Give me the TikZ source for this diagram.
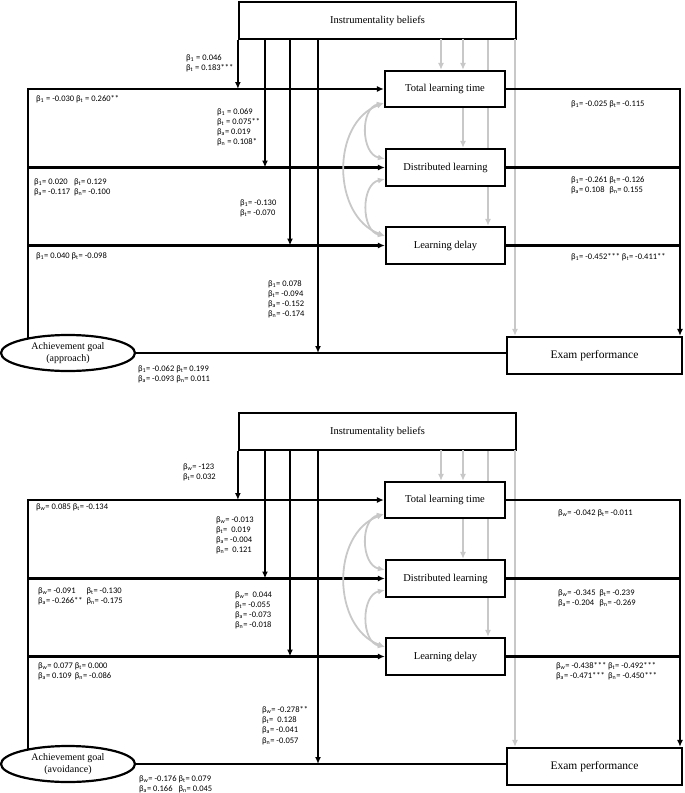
\documentclass[tikz,border=0pt]{standalone}
\usepackage{fontspec}
\setmainfont{Liberation Serif}
\newfontfamily\coeffont{Carlito}
\usetikzlibrary{arrows.meta,shapes.geometric,backgrounds}
\definecolor{pathgray}{RGB}{200,200,200}
\newcommand\bc[1]{β\textsubscript{#1}}

\tikzset{
  var/.style={draw, line width=2.2pt, fill=white, inner sep=0pt,
    font=\fontsize{10.5}{12}\selectfont},
  goalvar/.style={ellipse, draw, line width=2.2pt, fill=white, inner sep=0pt,
    minimum width=134pt, minimum height=36pt, align=center,
    font=\fontsize{10}{11.5}\selectfont},
  path/.style={line width=2.2pt, -{Latex[length=7pt,width=6pt]}},
  link/.style={line width=2.2pt},
  gpath/.style={draw=pathgray, line width=1.8pt, -{Latex[length=7pt,width=6pt]}},
  gcov/.style={draw=pathgray, line width=1.8pt,
    {Latex[length=7pt,width=6pt]}-{Latex[length=7pt,width=6pt]}},
  coef/.style={font=\coeffont\fontsize{8.5}{10.3}\selectfont, anchor=north west,
    inner sep=0pt, align=left},
}

\begin{document}
\begin{tikzpicture}[x=1pt, y=-1pt]
\useasboundingbox (0,0) rectangle (685,793);

% the two panels share one layout
\foreach \p/\off/\kind in {a/0/approach, b/411/avoidance} {
\begin{scope}[yshift=-\off pt]
  \node[var, minimum width=277pt, minimum height=37pt] (ib\p) at (377.5,20.5) {Instrumentality beliefs};
  \node[var, minimum width=120pt, minimum height=36pt] (tlt\p) at (445,89) {Total learning time};
  \node[var, minimum width=119pt, minimum height=37pt] (dl\p) at (445.5,167.5) {Distributed learning};
  \node[var, minimum width=119pt, minimum height=37pt] (ld\p) at (445.5,245.5) {Learning delay};
  \node[var, minimum width=175pt, minimum height=37pt, font=\fontsize{11.5}{13}\selectfont] (exam\p) at (594.5,355.5) {Exam performance};
  \node[goalvar] (goal\p) at (68,353) {Achievement goal\\(\kind)};

  \coordinate (lft\p) at (28,89);
  \coordinate (rgt\p) at (680,89);
  \coordinate (m1\p) at (265,39);
  \coordinate (m2\p) at (290,39);
  \coordinate (m3\p) at (318,39);
  \coordinate (g1\p) at (441,39);
  \coordinate (g2\p) at (463,39);
  \coordinate (g3\p) at (488,39);
  \coordinate (g4\p) at (515,39);

  \begin{scope}[on background layer]
    \draw[path] (lft\p |- goal\p) -- (lft\p) -- (tlt\p.west);
    \draw[gpath] (g3\p) -- (g3\p |- ld\p.north);
  \end{scope}
  \draw[path] (lft\p |- dl\p) -- (dl\p.west);
  \draw[path] (lft\p |- ld\p) -- (ld\p.west);
  \draw[link] (goal\p.east) -- (goal\p.east -| exam\p.west);

  % moderation by instrumentality beliefs
  \draw[path] (ib\p.south west) -- (ib\p.south west |- tlt\p.west);
  \draw[path] (m1\p) -- (m1\p |- dl\p);
  \draw[path] (m2\p) -- (m2\p |- ld\p);
  \draw[path] (m3\p) -- (m3\p |- goal\p.east);

  \draw[gpath] (g1\p) -- (g1\p |- tlt\p.north);
  \draw[gpath] (g2\p) -- (g2\p |- tlt\p.north);
  \draw[gpath] (g2\p |- tlt\p.south) -- (g2\p |- dl\p.north);
  \draw[gpath] (g4\p) -- (g4\p |- exam\p.north);

  % outcome paths
  \draw[path] (tlt\p.east) -- (rgt\p) -- (rgt\p |- exam\p.north);
  \draw[link] (dl\p.east) -- (dl\p.east -| rgt\p);
  \draw[link] (ld\p.east) -- (ld\p.east -| rgt\p);

  % covariances
  \draw[gcov] ([yshift=5pt]tlt\p.south west) .. controls +(-24,5) and +(-24,-5) .. ([yshift=-11pt]dl\p.north west);
  \draw[gcov] ([yshift=5pt]tlt\p.south west) .. controls +(-53,20) and +(-53,-20) .. ([yshift=-10pt]ld\p.north west);
  \draw[gcov] ([yshift=8pt]dl\p.south west) .. controls +(-24,5) and +(-24,-5) .. ([yshift=-10pt]ld\p.north west);
\end{scope}
}

% coefficients, approach
\node[coef] (ca1) at (186,54) {\bc{1} = 0.046\\\bc{t} = 0.183***};
\node[coef] (ca2) at (36,95) {\bc{1} = -0.030 \bc{t} = 0.260**};
\node[coef] (ca3) at (217,108) {\bc{1} = 0.069\\\bc{t} = 0.075**\\\bc{a}= 0.019\\\bc{n} = 0.108*};
\node[coef] (ca4) at (34,177) {\begin{tabular}{@{}l@{\ \ }l@{}}\bc{1}= 0.020 & \bc{t}= 0.129\\\bc{a}= -0.117 & \bc{n}= -0.100\end{tabular}};
\node[coef] (ca5) at (240,199) {\bc{1}= -0.130\\\bc{t}= -0.070};
\node[coef] (ca6) at (36,252) {\bc{1}= 0.040 \bc{t}= -0.098};
\node[coef] (ca7) at (268,280) {\bc{1}= 0.078\\\bc{t}= -0.094\\\bc{a}= -0.152\\\bc{n}= -0.174};
\node[coef] (ca8) at (138,364) {\begin{tabular}{@{}l@{\ }l@{}}\bc{1}= -0.062 & \bc{t}= 0.199\\\bc{a}= -0.093 & \bc{n}= 0.011\end{tabular}};
\node[coef] (ca9) at (571,100) {\bc{1}= -0.025 \bc{t}= -0.115};
\node[coef] (ca10) at (571,175) {\begin{tabular}{@{}l@{\ }l@{}}\bc{1}= -0.261 & \bc{t}= -0.126\\\bc{a}= 0.108 & \bc{n}= 0.155\end{tabular}};
\node[coef] (ca11) at (571,253) {\bc{1}= -0.452*** \bc{t}= -0.411**};

% coefficients, avoidance
\node[coef] (cb1) at (183,463) {\bc{w}= -123\\\bc{t}= 0.032};
\node[coef] (cb2) at (36,503) {\bc{w}= 0.085 \bc{t}= -0.134};
\node[coef] (cb3) at (216,516) {\bc{w}= -0.013\\\bc{t}=\ \ 0.019\\\bc{a}= -0.004\\\bc{n}=\ \ 0.121};
\node[coef] (cb4) at (38,586) {\begin{tabular}{@{}l@{\ \ }l@{}}\bc{w}= -0.091 & \bc{t}= -0.130\\\bc{a}= -0.266** & \bc{n}= -0.175\end{tabular}};
\node[coef] (cb5) at (235,591) {\bc{w}=\ \ 0.044\\\bc{t}= -0.055\\\bc{a}= -0.073\\\bc{n}= -0.018};
\node[coef] (cb6) at (38,661) {\begin{tabular}{@{}l@{\ }l@{}}\bc{w}= 0.077 & \bc{t}= 0.000\\\bc{a}= 0.109 & \bc{n}= -0.086\end{tabular}};
\node[coef] (cb7) at (262,706) {\bc{w}= -0.278**\\\bc{t}=\ \ 0.128\\\bc{a}= -0.041\\\bc{n}= -0.057};
\node[coef] (cb8) at (139,774) {\begin{tabular}{@{}l@{\ }l@{}}\bc{w}= -0.176 & \bc{t}= 0.079\\\bc{a}= 0.166 & \bc{n}= 0.045\end{tabular}};
\node[coef] (cb9) at (558,509) {\bc{w}= -0.042 \bc{t}= -0.011};
\node[coef] (cb10) at (558,588) {\begin{tabular}{@{}l@{\ \ }l@{}}\bc{w}= -0.345 & \bc{t}= -0.239\\\bc{a}= -0.204 & \bc{n}= -0.269\end{tabular}};
\node[coef] (cb11) at (556,661) {\begin{tabular}{@{}l@{\ }l@{}}\bc{w}= -0.438*** & \bc{t}= -0.492***\\\bc{a}= -0.471*** & \bc{n}= -0.450***\end{tabular}};
\end{tikzpicture}
\end{document}
